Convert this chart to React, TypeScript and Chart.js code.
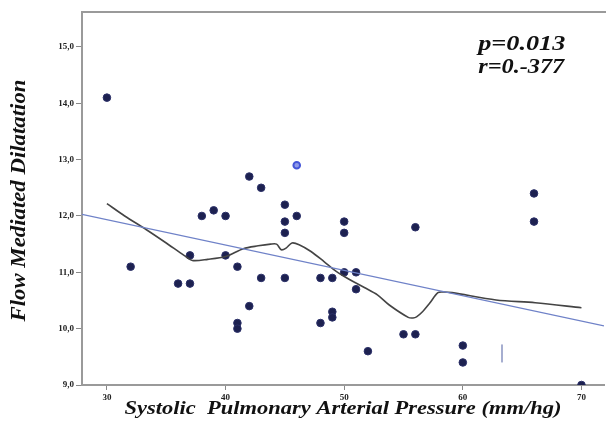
import React, { useEffect, useRef } from "react";
import { Chart, registerables } from "chart.js";

Chart.register(...registerables);

// Observed data (Systolic PAP mm/hg vs FMD)
const spapValues = [30, 32, 36, 37, 37, 38, 39, 40, 40, 41, 41, 41, 42, 42, 43, 43, 45, 45, 45, 45, 46, 48, 48, 49, 49, 49, 50, 50, 50, 51, 51, 52, 55, 56, 56, 60, 60, 66, 66, 70];
const fmdValues = [14.1, 11.1, 10.8, 10.8, 11.3, 12.0, 12.1, 12.0, 11.3, 11.1, 10.1, 10.0, 12.7, 10.4, 12.5, 10.9, 12.2, 11.9, 11.7, 10.9, 12.0, 10.9, 10.1, 10.9, 10.3, 10.2, 11.9, 11.7, 11.0, 11.0, 10.7, 9.6, 9.9, 9.9, 11.8, 9.7, 9.4, 12.4, 11.9, 9.0];

// Highlighted (hollow blue) case
const highlightX = [46];
const highlightY = [12.9];

// Linear fit line endpoints (x range of axis)
const fitX = [27.9, 71.9];
const fitY = [12.03, 10.05];

// Loess smoother
const loessX = [30, 31.5, 33.3, 35, 36.5, 37.2, 38.5, 40, 41.5, 42.75, 43.8, 44.3, 44.7, 45.1, 45.6, 46.2, 47.2, 48.3, 49.3, 50.3, 51.7, 52.8, 53.8, 55.4, 55.8, 56.1, 56.6, 57.2, 57.9, 58.4, 59.1, 62.8, 66.1, 70];
const loessY = [12.22, 12.0, 11.76, 11.52, 11.3, 11.21, 11.23, 11.28, 11.42, 11.47, 11.5, 11.5, 11.4, 11.43, 11.52, 11.49, 11.37, 11.19, 11.02, 10.89, 10.73, 10.6, 10.42, 10.2, 10.19, 10.21, 10.3, 10.45, 10.64, 10.65, 10.64, 10.51, 10.46, 10.37];

// Stray mark
const markX = [63.3, 63.3];
const markY = [9.4, 9.72];

const annotationLines = ["p=0.013", "r=0.-377"];
const xTitle = "Systolic  Pulmonary Arterial Pressure (mm/hg)";
const yTitle = "Flow Mediated Dilatation";

const xTicks = [30, 40, 50, 60, 70];
const yTicks = [9, 10, 11, 12, 13, 14, 15];

const X_MIN = 27.9;
const X_MAX = 71.9;
const Y_MIN = 9.0;
const Y_MAX = 15.62;

const zip = (xs: number[], ys: number[]) => xs.map((x, i) => ({ x, y: ys[i] }));

const SERIF = "'Liberation Serif', 'DejaVu Serif', serif";

function stretchedText(ctx: any, text: string, cx: number, cy: number, targetW: number, rot: number, size: number, align: "center" | "left") {
  ctx.save();
  ctx.font = `italic bold ${size}px ${SERIF}`;
  ctx.textBaseline = "middle";
  ctx.textAlign = align;
  const w = ctx.measureText(text).width;
  ctx.translate(cx, cy);
  ctx.rotate(rot);
  ctx.scale(targetW / w, 1);
  ctx.fillText(text, 0, 0);
  ctx.restore();
}

const frameAndText = {
  id: "frameAndText",
  afterDraw(chart: any) {
    const { ctx, chartArea, scales } = chart;
    ctx.save();
    // top border
    ctx.strokeStyle = "#9a9a9a";
    ctx.lineWidth = 2;
    ctx.beginPath();
    ctx.moveTo(chartArea.left - 1, chartArea.top);
    ctx.lineTo(chartArea.right + 2, chartArea.top);
    ctx.stroke();
    ctx.fillStyle = "#111";
    // annotation text
    const tx = scales.x.getPixelForValue(61.3);
    const ty = scales.y.getPixelForValue(15.03);
    stretchedText(ctx, annotationLines[0], tx, ty, 87, 0, 20, "left");
    stretchedText(ctx, annotationLines[1], tx, ty + 23, 86, 0, 20, "left");
    // axis titles
    const xc = (chartArea.left + chartArea.right) / 2;
    stretchedText(ctx, xTitle, xc, chartArea.bottom + 24, 437, 0, 19, "center");
    const yc = (chartArea.top + chartArea.bottom) / 2 + 2;
    stretchedText(ctx, yTitle, 20, yc, 242, -Math.PI / 2, 20, "center");
    ctx.restore();
  },
};

export default function App() {
  const ref = useRef<HTMLCanvasElement | null>(null);
  useEffect(() => {
    document.body.style.margin = "0";
    const canvas = ref.current;
    if (!canvas) return;
    const tickFont = { family: SERIF, size: 9, weight: "bold" as const };
    const chart = new Chart(canvas, {
      type: "scatter",
      data: {
        datasets: [
          {
            type: "line",
            data: zip(fitX, fitY),
            borderColor: "#6f82c8",
            borderWidth: 1.3,
            pointRadius: 0,
            fill: false,
          } as any,
          {
            type: "line",
            data: zip(loessX, loessY),
            borderColor: "#444444",
            borderWidth: 1.6,
            pointRadius: 0,
            tension: 0.3,
            fill: false,
          } as any,
          {
            type: "line",
            data: zip(markX, markY),
            borderColor: "#a6aed0",
            borderWidth: 2,
            pointRadius: 0,
            fill: false,
          } as any,
          {
            data: zip(spapValues, fmdValues),
            backgroundColor: "#1d2150",
            borderColor: "#2b3068",
            borderWidth: 1,
            pointRadius: 3.8,
          },
          {
            data: zip(highlightX, highlightY),
            backgroundColor: "#8f9ae8",
            borderColor: "#4455d8",
            borderWidth: 2,
            pointRadius: 3.3,
          },
        ],
      },
      options: {
        animation: false,
        responsive: true,
        maintainAspectRatio: false,
        layout: { padding: { top: 12, right: 0, left: 0, bottom: 0 } },
        plugins: { legend: { display: false }, tooltip: { enabled: false } },
        scales: {
          x: {
            type: "linear",
            min: X_MIN,
            max: X_MAX,
            afterBuildTicks: (s: any) => {
              s.ticks = xTicks.map((v) => ({ value: v }));
            },
            afterFit: (s: any) => {
              s.height = 49;
            },
            ticks: { includeBounds: false, font: tickFont, color: "#222", padding: 2, autoSkip: false, maxRotation: 0 },
            grid: { drawOnChartArea: false, drawTicks: true, tickLength: 5, color: "#888", lineWidth: 1 },
            border: { color: "#9a9a9a", width: 2 },
            title: { display: false },
          },
          y: {
            type: "linear",
            min: Y_MIN,
            max: Y_MAX,
            afterBuildTicks: (s: any) => {
              s.ticks = yTicks.map((v) => ({ value: v }));
            },
            afterFit: (s: any) => {
              s.width = 82;
            },
            ticks: {
              includeBounds: false,
              font: tickFont,
              color: "#222",
              padding: 2,
              callback: (v: any) => Number(v).toFixed(1).replace(".", ","),
            },
            grid: { drawOnChartArea: false, drawTicks: true, tickLength: 6, color: "#888", lineWidth: 1 },
            border: { color: "#9a9a9a", width: 2 },
            title: { display: false },
          },
        },
      },
      plugins: [frameAndText],
    });
    return () => chart.destroy();
  }, []);
  return (
    <div style={{ position: "fixed", left: 0, top: 0, width: 610, height: 434, background: "#fff" }}>
      <canvas ref={ref} />
    </div>
  );
}
